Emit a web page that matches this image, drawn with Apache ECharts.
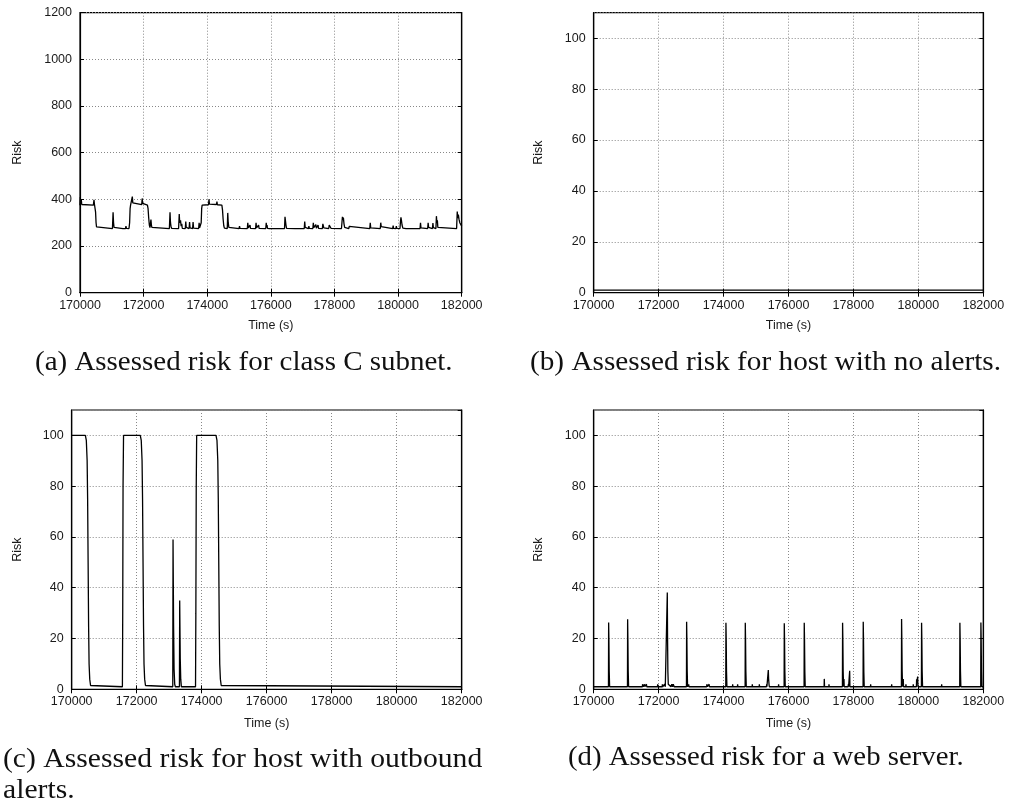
<!DOCTYPE html>
<html>
<head>
<meta charset="utf-8">
<script src="https://cdn.jsdelivr.net/npm/echarts@6/dist/echarts.min.js"></script>
<style>
  html, body { margin: 0; padding: 0; background: #fff; }
  #chart { width: 1009px; height: 805px; }
</style>
</head>
<body>
<div id="chart"></div>
<script>
// Time axis shared by all four panels (seconds)
const timeMin = 170000;
const timeMax = 182000;
const timeStep = 2000;

// (a) class C subnet: aggregate risk, base level ~275 with plateaus ~375
const subnetRisk = [
  [170000, 375], [170010, 410], [170020, 380], [170040, 400], [170055, 378], [170080, 385], [170100, 375],
  [170420, 375], [170440, 398], [170455, 378], [170470, 375], [170490, 345], [170505, 300], [170520, 282], [170540, 276], [170560, 275],
  [171020, 275], [171040, 345], [171055, 300], [171070, 280], [171085, 275],
  [171350, 275], [171360, 283], [171375, 276], [171430, 275], [171445, 285], [171460, 276],
  [171540, 275], [171560, 300], [171575, 360], [171590, 375],
  [171630, 378], [171645, 412], [171660, 385], [171680, 390], [171700, 377], [171940, 377], [171955, 404], [171970, 383], [171990, 378],
  [172120, 375], [172140, 360], [172160, 320], [172180, 290], [172200, 279], [172215, 276], [172230, 313], [172245, 290], [172260, 280], [172290, 285], [172310, 276], [172330, 275],
  [172810, 275], [172830, 345], [172845, 300], [172860, 285], [172880, 276],
  [173100, 275], [173120, 337], [173135, 300], [173160, 310], [173180, 285], [173200, 295], [173215, 276],
  [173310, 275], [173325, 305], [173340, 280], [173430, 275], [173445, 303], [173460, 278], [173540, 275], [173555, 303], [173570, 277],
  [173730, 275], [173745, 300], [173760, 278], [173790, 276], [173810, 300], [173825, 360], [173840, 375],
  [174040, 377], [174055, 400], [174070, 380], [174090, 385], [174110, 377], [174290, 378], [174305, 390], [174320, 377],
  [174460, 375], [174480, 355], [174500, 315], [174520, 287], [174540, 277], [174560, 275],
  [174630, 275], [174645, 342], [174660, 300], [174680, 280], [174700, 276],
  [175000, 275], [175015, 285], [175030, 276],
  [175260, 275], [175275, 300], [175290, 278], [175330, 275], [175345, 290], [175360, 276],
  [175520, 275], [175535, 300], [175550, 278], [175600, 275], [175615, 290], [175630, 276],
  [175840, 275], [175855, 300], [175870, 280], [175880, 290], [175895, 276], [175960, 275], [175975, 283], [175990, 276],
  [176430, 275], [176445, 325], [176460, 322], [176475, 290], [176495, 276],
  [176760, 275], [176775, 282], [176790, 276],
  [177050, 275], [177065, 305], [177080, 280], [177100, 276],
  [177180, 275], [177195, 285], [177210, 276],
  [177320, 275], [177335, 300], [177350, 279], [177400, 275], [177415, 292], [177430, 277], [177470, 275], [177485, 290], [177500, 276],
  [177620, 275], [177635, 295], [177650, 300], [177665, 278],
  [177820, 275], [177835, 290], [177850, 283], [177870, 286], [177890, 276],
  [178220, 275], [178235, 300], [178250, 325], [178265, 313], [178280, 322], [178300, 295], [178320, 280], [178340, 276],
  [178450, 275], [178465, 284], [178480, 276],
  [179110, 275], [179125, 300], [179140, 278],
  [179440, 275], [179455, 300], [179470, 283], [179490, 276],
  [179830, 275], [179845, 288], [179860, 276], [179930, 275], [179945, 285], [179960, 276],
  [180060, 275], [180075, 305], [180090, 323], [180105, 310], [180125, 290], [180150, 277],
  [180250, 275], [180265, 282], [180280, 276],
  [180690, 275], [180705, 300], [180720, 278],
  [180930, 275], [180945, 300], [180960, 280], [180990, 276],
  [181080, 275], [181095, 298], [181110, 279],
  [181190, 275], [181205, 328], [181220, 300], [181235, 310], [181250, 280], [181270, 276],
  [181840, 275], [181860, 348], [181875, 320], [181895, 335], [181915, 315], [181940, 300], [181970, 292], [182000, 285]
];

// (b) host with no alerts: flat minimum risk
const quietHostRisk = [[170000, 1], [182000, 1]];

// (c) host with outbound alerts: saturated plateaus and two short spikes
const outboundHostRisk = [
  [170000, 100], [170420, 100], [170450, 98], [170475, 90], [170490, 75], [170505, 50], [170520, 25], [170535, 10], [170555, 4], [170580, 1.5], [170610, 1],
  [171560, 1], [171570, 30], [171580, 80], [171595, 100],
  [172110, 100], [172140, 98], [172165, 90], [172180, 75], [172195, 50], [172210, 25], [172225, 10], [172245, 4], [172270, 1.5], [172300, 1],
  [173110, 1], [173118, 59], [173135, 25], [173150, 8], [173170, 2], [173190, 1],
  [173315, 1], [173323, 35], [173340, 12], [173355, 4], [173375, 1],
  [173810, 1], [173820, 30], [173832, 80], [173845, 100],
  [174440, 100], [174470, 98], [174495, 90], [174510, 75], [174525, 50], [174540, 25], [174555, 10], [174575, 4], [174600, 1.5], [174630, 1],
  [182000, 1]
];

// (d) web server: repeated short alert spikes over a minimum baseline
const webServerRisk = [
  [170000, 1],
  [170455, 1], [170460, 26.3], [170468, 20], [170478, 7], [170490, 1],
  [171040, 1], [171045, 27.6], [171053, 20], [171063, 7], [171075, 1],
  [171500, 1], [171505, 2], [171520, 2], [171525, 1], [171560, 1], [171565, 2], [171575, 1], [171620, 1], [171625, 2], [171635, 1],
  [171965, 1], [171970, 2], [171978, 1],
  [172110, 1], [172115, 2], [172125, 1], [172180, 1], [172185, 2], [172200, 2], [172205, 1],
  [172262, 1], [172267, 38.1], [172275, 20], [172285, 7], [172297, 2], [172320, 2], [172330, 1.5], [172350, 2], [172370, 2], [172380, 1],
  [172400, 1], [172405, 2], [172420, 2], [172430, 1], [172450, 2], [172470, 2], [172480, 1],
  [172857, 1], [172862, 26.6], [172870, 20], [172880, 7], [172892, 1], [172920, 1], [172925, 2], [172935, 1],
  [173480, 1], [173485, 2], [173500, 2], [173505, 1], [173550, 1], [173555, 2], [173565, 1],
  [174068, 1], [174073, 26.2], [174081, 20], [174091, 7], [174103, 1],
  [174275, 1], [174280, 2], [174288, 1], [174428, 1], [174433, 2], [174441, 1],
  [174664, 1], [174669, 26.2], [174677, 20], [174687, 7], [174699, 1],
  [174880, 1], [174885, 2], [174893, 1], [175097, 1], [175102, 2], [175110, 1],
  [175322, 1], [175327, 2], [175335, 1], [175373, 1], [175378, 7.6], [175388, 4], [175400, 2], [175410, 1],
  [175690, 1], [175695, 2], [175703, 1],
  [175865, 1], [175870, 26], [175878, 20], [175888, 7], [175900, 1],
  [176480, 1], [176485, 26.2], [176493, 20], [176503, 7], [176515, 1],
  [177097, 1], [177102, 4.1], [177110, 1], [177242, 1], [177247, 2], [177255, 1],
  [177661, 1], [177666, 26.2], [177674, 20], [177684, 7], [177696, 1], [177703, 1], [177708, 4], [177716, 1],
  [177838, 1], [177843, 2], [177851, 1], [177879, 1], [177884, 7.3], [177892, 1],
  [178297, 1], [178302, 26.6], [178310, 20], [178320, 7], [178332, 1],
  [178525, 1], [178530, 2], [178538, 1],
  [179172, 1], [179177, 2], [179185, 1],
  [179478, 1], [179483, 27.7], [179491, 20], [179501, 7], [179513, 1], [179530, 1], [179535, 4], [179543, 1], [179612, 1], [179617, 2], [179625, 1],
  [179838, 1], [179843, 2], [179851, 1], [179940, 1], [179946, 4], [179955, 3], [179978, 5], [179988, 1],
  [180094, 1], [180099, 26.2], [180107, 20], [180117, 7], [180129, 1],
  [180712, 1], [180717, 2], [180725, 1],
  [181274, 1], [181279, 26.2], [181287, 20], [181297, 7], [181309, 1],
  [181921, 1], [181926, 26.3], [181934, 20], [181944, 7], [181956, 1], [182000, 1]
];

// Sub-figure captions
const captionA = '(a) Assessed risk for class C subnet.';
const captionB = '(b) Assessed risk for host with no alerts.';
const captionC1 = '(c) Assessed risk for host with outbound';
const captionC2 = 'alerts.';
const captionD = '(d) Assessed risk for a web server.';

const xName = 'Time (s)';
const yName = 'Risk';

// Panel layout and y ranges
const panels = [
  { data: subnetRisk,       left: 80,    top: 12.7, width: 381.7, height: 280,   yMax: 1200, yStep: 200, nameGap: 56, xGap: 26 },
  { data: quietHostRisk,    left: 593.7, top: 12.7, width: 389.6, height: 280,   yMax: 110,  yStep: 20,  nameGap: 49, xGap: 26 },
  { data: outboundHostRisk, left: 71.7,  top: 410,  width: 390,   height: 279.3, yMax: 110,  yStep: 20,  nameGap: 48, xGap: 28 },
  { data: webServerRisk,    left: 593.7, top: 410,  width: 389.6, height: 279.3, yMax: 110,  yStep: 20,  nameGap: 49, xGap: 28 }
];

const sans = '"Liberation Sans", Arial, sans-serif';
const serif = '"Liberation Serif", "Times New Roman", serif';
const textColor = '#1a1a1a';
const gridLine = { show: true, lineStyle: { color: '#888', type: [1, 2], width: 1 } };
const frameLine = { show: true, lineStyle: { color: '#000', width: 1.2 } };
const innerTick = { show: true, inside: true, length: 4, lineStyle: { color: '#000', width: 1 } };
const plainNumber = v => String(v);

const grids = [], xAxes = [], yAxes = [], series = [];
panels.forEach((p, i) => {
  grids.push({ left: p.left, top: p.top, width: p.width, height: p.height, show: true, borderColor: '#000', borderWidth: 1.2 });
  // bottom axis with labels
  xAxes.push({
    type: 'value', gridIndex: i, position: 'bottom', min: timeMin, max: timeMax, interval: timeStep,
    axisLine: frameLine, axisTick: innerTick, splitLine: gridLine,
    axisLabel: { color: textColor, fontSize: 12.5, fontFamily: sans, margin: 6, formatter: plainNumber },
    name: xName, nameLocation: 'middle', nameGap: p.xGap,
    nameTextStyle: { color: textColor, fontSize: 12.5, fontFamily: sans }
  });
  // mirrored top ticks
  xAxes.push({
    type: 'value', gridIndex: i, position: 'top', min: timeMin, max: timeMax, interval: timeStep,
    axisLine: frameLine, axisTick: innerTick, splitLine: { show: false }, axisLabel: { show: false }
  });
  yAxes.push({
    type: 'value', gridIndex: i, position: 'left', min: 0, max: p.yMax, interval: p.yStep,
    axisLine: frameLine, axisTick: innerTick, splitLine: gridLine,
    axisLabel: { color: textColor, fontSize: 12.5, fontFamily: sans, margin: 8, formatter: plainNumber,
                 showMaxLabel: p.yMax % p.yStep === 0 },
    name: yName, nameLocation: 'middle', nameGap: p.nameGap, nameRotate: 90,
    nameTextStyle: { color: textColor, fontSize: 12.5, fontFamily: sans }
  });
  // mirrored right ticks
  yAxes.push({
    type: 'value', gridIndex: i, position: 'right', min: 0, max: p.yMax, interval: p.yStep,
    axisLine: frameLine, axisTick: innerTick, splitLine: { show: false }, axisLabel: { show: false }
  });
  series.push({
    type: 'line', xAxisIndex: 2 * i, yAxisIndex: 2 * i, data: p.data,
    symbol: 'none', silent: true, lineStyle: { color: '#000', width: 1.3 }
  });
});

function caption(text, x, y, sx) {
  return {
    type: 'text', x: x, y: y, scaleX: sx, silent: true,
    style: { text: text, font: '27px ' + serif, fill: '#111', align: 'left', verticalAlign: 'middle' }
  };
}

const chart = echarts.init(document.getElementById('chart'), null, { renderer: 'canvas' });
chart.setOption({
  animation: false,
  backgroundColor: '#fff',
  grid: grids,
  xAxis: xAxes,
  yAxis: yAxes,
  series: series,
  graphic: [
    caption(captionA, 35, 363, 1.073),
    caption(captionB, 530, 363, 1.083),
    caption(captionC1, 3, 760, 1.098),
    caption(captionC2, 3, 791, 1.098),
    caption(captionD, 568, 758, 1.066)
  ]
});
</script>
</body>
</html>
